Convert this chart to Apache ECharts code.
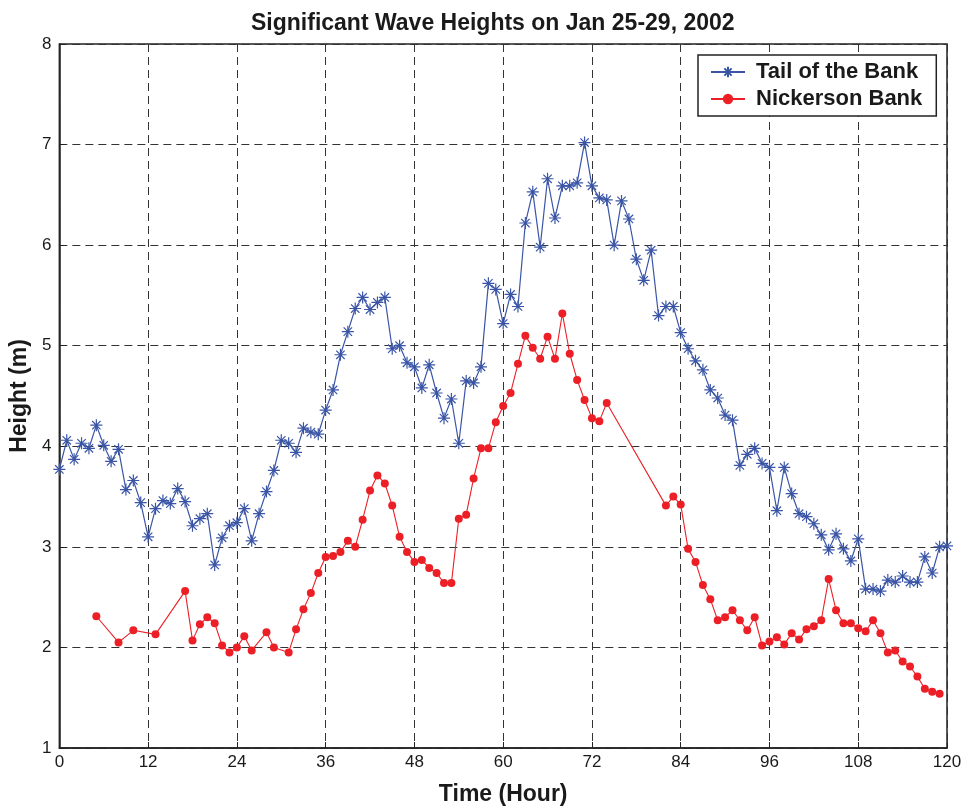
<!DOCTYPE html>
<html>
<head>
<meta charset="utf-8">
<script src="https://cdn.jsdelivr.net/npm/echarts@6/dist/echarts.min.js"></script>
<style>
html,body{margin:0;padding:0;background:#fff;}
#main{width:969px;height:812px;}
</style>
</head>
<body>
<div id="main"></div>
<script>
// Tail of the Bank: hourly values, hour 0..120
var tailHours = [];
for (var i = 0; i <= 120; i++) tailHours.push(i);
var tailValues = [
  3.77,4.06,3.87,4.03,3.98,4.21,4.01,3.85,3.97,3.57,
  3.66,3.44,3.10,3.38,3.46,3.43,3.58,3.45,3.21,3.28,
  3.33,2.82,3.09,3.21,3.24,3.38,3.06,3.33,3.55,3.76,
  4.06,4.03,3.94,4.18,4.14,4.12,4.36,4.56,4.91,5.14,
  5.37,5.48,5.36,5.43,5.48,4.97,5.00,4.83,4.79,4.58,
  4.81,4.53,4.28,4.47,4.03,4.65,4.63,4.79,5.62,5.56,
  5.22,5.51,5.39,6.22,6.53,5.98,6.66,6.27,6.59,6.59,
  6.62,7.02,6.59,6.47,6.45,6.00,6.44,6.26,5.86,5.65,
  5.95,5.30,5.39,5.39,5.13,4.97,4.85,4.76,4.56,4.48,
  4.31,4.26,3.81,3.92,3.98,3.83,3.79,3.36,3.79,3.53,
  3.33,3.30,3.23,3.12,2.97,3.13,2.98,2.86,3.08,2.58,
  2.58,2.56,2.67,2.65,2.71,2.65,2.65,2.90,2.74,3.00,
  3.01
];

// Nickerson Bank: hours with data (gaps present)
var nickHours = [
  5,8,10,13,17,18,19,20,21,22,23,24,25,26,28,29,31,32,33,34,35,
  36,37,38,39,40,41,42,43,44,45,46,47,48,49,50,51,52,53,54,55,56,57,
  58,59,60,61,62,63,64,65,66,67,68,69,70,71,72,73,74,
  82,83,84,85,86,87,88,89,90,91,92,93,94,95,96,97,98,99,100,
  101,102,103,104,105,106,107,108,109,110,111,112,113,114,115,116,117,118,119
];
var nickValues = [
  2.31,2.05,2.17,2.13,2.56,2.07,2.23,2.30,2.24,2.02,1.95,2.00,2.11,1.97,2.15,2.00,1.95,2.18,2.38,2.54,2.74,
  2.90,2.91,2.95,3.06,3.00,3.27,3.56,3.71,3.63,3.41,3.10,2.95,2.85,2.87,2.79,2.74,2.64,2.64,3.28,3.32,3.68,3.98,
  3.98,4.24,4.40,4.53,4.82,5.10,4.98,4.87,5.09,4.87,5.32,4.92,4.66,4.46,4.28,4.25,4.43,
  3.41,3.50,3.42,2.98,2.85,2.62,2.48,2.27,2.30,2.37,2.27,2.17,2.30,2.02,2.06,2.10,2.03,2.14,2.08,
  2.18,2.21,2.27,2.68,2.37,2.24,2.24,2.19,2.16,2.27,2.14,1.95,1.97,1.86,1.81,1.71,1.59,1.56,1.54
];

var xTicks = [0,12,24,36,48,60,72,84,96,108,120];
var yTicks = [1,2,3,4,5,6,7,8];

var seriesNames = ['Tail of the Bank', 'Nickerson Bank'];
var titleText = 'Significant Wave Heights on Jan 25-29, 2002';
var xName = 'Time (Hour)';
var yName = 'Height (m)';

function pairs(xs, ys){ var o=[]; for (var i=0;i<xs.length;i++) o.push([xs[i], ys[i]]); return o; }

var BLUE = '#3a55a6';
var RED = '#ec1f26';
var FONT = '"Liberation Sans", Arial, sans-serif';
var asterisk = 'path://M0,6L12,6M6,0L6,12M1.8,1.8L10.2,10.2M10.2,1.8L1.8,10.2';

var chart = echarts.init(document.getElementById('main'), null, {renderer:'canvas'});
chart.setOption({
  backgroundColor: '#fff',
  animation: false,
  title: {
    text: titleText,
    left: 246, top: 7,
    textStyle: {fontFamily: FONT, fontWeight: 'bold', fontSize: 23, color: '#1a1a1a'}
  },
  legend: {
    orient: 'vertical',
    left: 698, top: 55,
    padding: [6, 14, 6, 12],
    itemGap: 5,
    itemWidth: 34, itemHeight: 13,
    backgroundColor: '#fff',
    borderColor: '#222', borderWidth: 1.5,
    textStyle: {fontFamily: FONT, fontWeight: 'bold', fontSize: 22, color: '#1a1a1a', padding: [0, 0, 0, 6]},
    data: seriesNames
  },
  grid: {
    left: 56, right: 22, top: 44, bottom: 64,
    show: true, borderColor: '#222', borderWidth: 1.5, backgroundColor: '#fff'
  },
  xAxis: {
    type: 'value', min: 0, max: 120, interval: 12,
    name: xName, nameLocation: 'middle', nameGap: 35,
    nameTextStyle: {fontFamily: FONT, fontWeight: 'bold', fontSize: 23, color: '#1a1a1a'},
    axisLine: {show: true, onZero: false, lineStyle: {color: '#222', width: 1.5}},
    axisTick: {show: true, inside: true, length: 6, lineStyle: {color: '#222'}},
    axisLabel: {fontFamily: FONT, fontSize: 17, color: '#1a1a1a', margin: 6},
    splitLine: {show: true, lineStyle: {color: '#333', type: [8, 5], width: 1}}
  },
  yAxis: {
    type: 'value', min: 1, max: 8, interval: 1,
    name: yName, nameLocation: 'middle', nameGap: 21, nameRotate: 90,
    nameTextStyle: {fontFamily: FONT, fontWeight: 'bold', fontSize: 23, color: '#1a1a1a'},
    axisLine: {show: true, onZero: false, lineStyle: {color: '#222', width: 1.5}},
    axisTick: {show: true, inside: true, length: 6, lineStyle: {color: '#222'}},
    axisLabel: {fontFamily: FONT, fontSize: 17, color: '#1a1a1a', margin: 8},
    splitLine: {show: true, lineStyle: {color: '#333', type: [8, 5], width: 1}}
  },
  series: [
    {
      name: seriesNames[0], type: 'line',
      data: pairs(tailHours, tailValues),
      symbol: asterisk, symbolSize: 12, showAllSymbol: true,
      lineStyle: {color: BLUE, width: 1.2},
      itemStyle: {color: BLUE, borderColor: BLUE, borderWidth: 1.2},
      z: 3
    },
    {
      name: seriesNames[1], type: 'line',
      data: pairs(nickHours, nickValues),
      symbol: 'circle', symbolSize: 8, showAllSymbol: true,
      lineStyle: {color: RED, width: 1.1},
      itemStyle: {color: RED},
      z: 4
    }
  ]
});
</script>
</body>
</html>
